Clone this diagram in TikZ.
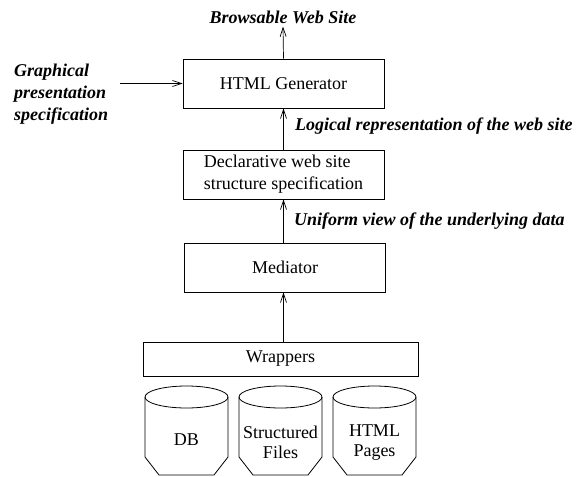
\documentclass[tikz,border=0pt]{standalone}
\usepackage{fontspec}
\setmainfont{Liberation Serif}
\usetikzlibrary{arrows.meta}
\begin{document}
\begin{tikzpicture}[x=1pt,y=-1pt,
  box/.style={draw, line width=0.8pt, minimum width=201pt, minimum height=49pt, inner sep=0pt, font=\fontsize{18}{22}\selectfont},
  lbl/.style={font=\fontsize{18}{22}\selectfont\bfseries\itshape, inner sep=0pt},
  arr/.style={-{Straight Barb[length=9pt,width=6pt]}, line width=0.7pt},
  txt/.style={font=\fontsize{18}{19.5}\selectfont, inner sep=0pt, align=center},
  cyl/.style={line width=0.8pt}]
\useasboundingbox (0,0) rectangle (582,477);
\node[box] (gen) at (283.5,83.5) {HTML Generator};
\node[box, align=left] (decl) at (283.5,174.5) {Declarative web site\\structure specification};
\node[box] (med) at (285,267.5) {Mediator};
\node[box, minimum width=275pt, minimum height=34pt] (wrap) at (280.5,359) {Wrappers};
\node[lbl] (bws) at (283,17) {Browsable Web Site};
\node[lbl, anchor=west, align=left] (gps) at (14,94) {Graphical\\presentation\\specification};
\node[lbl, anchor=west] (logi) at (295,126) {Logical representation of the web site};
\node[lbl, anchor=west] (unif) at (294,221) {Uniform view of the underlying data};
\coordinate (gpsout) at (120,83.5);
\draw[arr] (gen.north) -- ([yshift=-3pt]bws.south);
\draw[arr] (gpsout) -- (gen.west);
\draw[arr] (decl.north) -- (gen.south);
\draw[arr] (decl.south |- med.north) -- (decl.south);
\draw[arr] (decl.south |- wrap.north) -- (decl.south |- med.south);
\foreach \cx in {186.5,280.5,374.5} {
  \draw[cyl] (\cx-41.5,397) -- (\cx-41.5,457) -- (\cx-27.5,475) -- (\cx+27.5,475) -- (\cx+41.5,457) -- (\cx+41.5,397);
  \draw[cyl] (\cx,397) ellipse [x radius=41.5, y radius=11];
}
\node[txt] (db) at (186.5,440) {DB};
\node[txt] (sf) at (280.5,442.5) {Structured\\Files};
\node[txt] (hp) at (374.5,442.5) {HTML\\Pages};
\end{tikzpicture}
\end{document}
